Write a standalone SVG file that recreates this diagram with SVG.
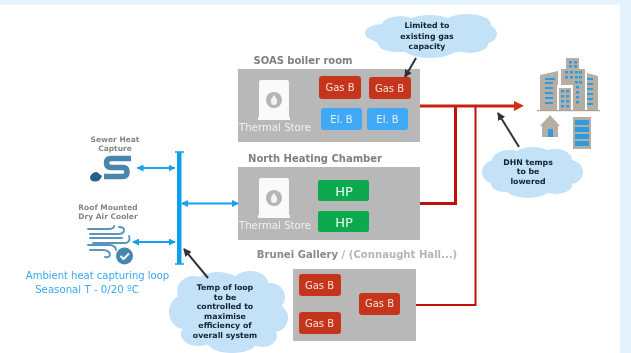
<svg xmlns="http://www.w3.org/2000/svg" width="631" height="353" viewBox="0 0 631 353">
<style>
text{font-family:"DejaVu Sans","Liberation Sans",sans-serif;text-anchor:middle}
.box{fill:#b8b8b8}
.gas{fill:#c5351a}
.el{fill:#3fa9f5}
.hp{fill:#10a94f}
.bt{fill:#f3e2dc;font-size:10px}
.bw{fill:#dff1ff;font-size:10px}
.hpt{fill:#e8fff0;font-size:13px}
.title{fill:#7f7f7f;font-size:10px;font-weight:bold}
.small{fill:#858585;font-size:7.5px;font-weight:bold}
.ts{fill:#f0f0f0;font-size:10.2px}
.cloud ellipse{fill:#c4e2f7}
.ct{fill:#10202e;font-size:7.8px;font-weight:bold}
.red{fill:none;stroke:#c00f0f}
.blue{stroke:#12a0ee;stroke-width:2;fill:none;marker-start:url(#bs);marker-end:url(#be)}
.dark{stroke:#333;stroke-width:2;fill:none;marker-end:url(#dk)}
.bldg{fill:#b5afa3}
.win{fill:#2f9be0}
</style>
<defs>
<filter id="soft" x="0" y="0" width="100%" height="100%"><feGaussianBlur stdDeviation="0.35"/></filter>
<marker id="be" markerWidth="7" markerHeight="7" refX="6" refY="3.500" orient="auto" markerUnits="userSpaceOnUse"><path d="M0 0L7 3.500L0 7z" fill="#12a0ee"/></marker>
<marker id="bs" markerWidth="7" markerHeight="7" refX="1" refY="3.500" orient="auto" markerUnits="userSpaceOnUse"><path d="M7 0L0 3.500L7 7z" fill="#12a0ee"/></marker>
<marker id="dk" markerWidth="8" markerHeight="8" refX="7" refY="4" orient="auto" markerUnits="userSpaceOnUse"><path d="M0 0L8 4L0 8z" fill="#333"/></marker>
<g id="tank"><path d="M2 0H28Q30 0 30 3V37H31V40H-1V37H0V3Q0 0 2 0z" fill="#fafafa"/><circle cx="15" cy="20" r="8" fill="#b5b5b5"/><path d="M15 15Q19 20 18 22A3 3 0 0 1 12 22Q11 20 15 15z" fill="#f4f4f4"/></g>
</defs>
<rect width="631" height="353" fill="#fff"/>
<path d="M0 0H631V353H620V4.500H0z" fill="#e3f2fb"/>
<g filter="url(#soft)">

<g id="soas">
<text class="title" x="303" y="64">SOAS boiler room</text>
<rect class="box" x="238" y="69" width="182" height="73"/>
<use href="#tank" x="259" y="80"/>
<text class="ts" x="275" y="131">Thermal Store</text>
</g>
<g id="soas-gas1"><rect class="gas" x="319" y="76" width="42" height="23" rx="3"/><text class="bt" x="340" y="91">Gas B</text></g>
<g id="soas-gas2"><rect class="gas" x="369" y="77" width="42" height="22" rx="3"/><text class="bt" x="389.500" y="92">Gas B</text></g>
<g id="soas-el1"><rect class="el" x="321" y="108" width="41" height="22" rx="3"/><text class="bw" x="341.500" y="123">El. B</text></g>
<g id="soas-el2"><rect class="el" x="367" y="108" width="41" height="22" rx="3"/><text class="bw" x="387.500" y="123">El. B</text></g>

<g id="north">
<text class="title" x="315" y="162">North Heating Chamber</text>
<rect class="box" x="238" y="167" width="182" height="73"/>
<use href="#tank" x="259" y="178"/>
<text class="ts" x="275" y="229">Thermal Store</text>
</g>
<g id="north-hp1"><rect class="hp" x="318" y="180" width="51" height="21" rx="2"/><text class="hpt" x="344" y="196">HP</text></g>
<g id="north-hp2"><rect class="hp" x="318" y="211" width="51" height="21" rx="2"/><text class="hpt" x="344" y="227">HP</text></g>

<g id="brunei">
<text x="357" y="258" font-size="10.100" font-weight="bold" fill="#b5b5b5"><tspan fill="#8a8a8a">Brunei Gallery</tspan> / (Connaught Hall...)</text>
<rect class="box" x="293" y="269" width="123" height="72"/>
</g>
<g id="brunei-gas1"><rect class="gas" x="299" y="274" width="42" height="22" rx="3"/><text class="bt" x="319.500" y="289">Gas B</text></g>
<g id="brunei-gas2"><rect class="gas" x="299" y="312" width="42" height="22" rx="3"/><text class="bt" x="319.500" y="327">Gas B</text></g>
<g id="brunei-gas3"><rect class="gas" x="359" y="293" width="41" height="22" rx="3"/><text class="bt" x="379.500" y="307">Gas B</text></g>

<g id="sewer">
<text class="small" x="115" y="142">Sewer Heat</text>
<text class="small" x="115" y="151">Capture</text>
<path d="M131 158.500H111Q106.500 158.500 106.500 163Q106.500 167.500 111 167.500H123Q127 167.500 127 172Q127 176.500 123 176.500H104" fill="none" stroke="#4a86ad" stroke-width="5.500"/>
<path d="M90 177Q92 172 97 172L102 176Q100 182 94 181.500Q90 181 90 177z" fill="#2f5f80"/>
</g>

<g id="cooler">
<text class="small" x="108" y="210">Roof Mounted</text>
<text class="small" x="108" y="219">Dry Air Cooler</text>
<g fill="none" stroke="#5a95bd" stroke-width="1.900" stroke-linecap="round">
<path d="M88 229H108Q114 229 114 226"/>
<path d="M90 234H118Q124 234 124 230Q124 227 119 227"/>
<path d="M90 238H122"/>
<path d="M93 243H126Q131 241 129 236"/>
<path d="M88 245H110Q116 246 116 250"/>
<path d="M90 250H104Q110 251 110 255Q109 258 105 257"/>
</g>
<circle cx="124.500" cy="256" r="8.500" fill="#4a86ad"/>
<path d="M120.500 256L123.500 259L129 253.500" fill="none" stroke="#f2f7fa" stroke-width="2"/>
</g>

<g id="ambient">
<text x="97.500" y="279" font-size="10" fill="#3aa9ee">Ambient heat capturing loop</text>
<text x="87" y="293" font-size="10.200" fill="#3aa9ee">Seasonal T - 0/20 ºC</text>
</g>

<g id="cloud-gas" class="cloud">
<ellipse cx="431" cy="36" rx="58" ry="18"/><ellipse cx="382" cy="33" rx="17" ry="9"/><ellipse cx="400" cy="25" rx="18" ry="9"/><ellipse cx="430" cy="24" rx="24" ry="9"/><ellipse cx="467" cy="24" rx="24" ry="10"/><ellipse cx="483" cy="34" rx="14" ry="10"/><ellipse cx="470" cy="44" rx="18" ry="9"/><ellipse cx="430" cy="49" rx="26" ry="9"/><ellipse cx="398" cy="44" rx="20" ry="8"/>
<text class="ct" x="427" y="28">Limited to</text>
<text class="ct" x="427" y="39">existing gas</text>
<text class="ct" x="427" y="49">capacity</text>
</g>

<g id="cloud-dhn" class="cloud">
<ellipse cx="532" cy="172" rx="42" ry="21"/><ellipse cx="496" cy="172" rx="14" ry="12"/><ellipse cx="510" cy="160" rx="18" ry="10"/><ellipse cx="533" cy="157" rx="20" ry="10"/><ellipse cx="555" cy="160" rx="17" ry="11"/><ellipse cx="570" cy="172" rx="13" ry="12"/><ellipse cx="556" cy="185" rx="16" ry="9"/><ellipse cx="528" cy="189" rx="22" ry="9"/><ellipse cx="505" cy="184" rx="14" ry="8"/>
<text class="ct" x="528" y="165">DHN temps</text>
<text class="ct" x="528" y="174">to be</text>
<text class="ct" x="528" y="184">lowered</text>
</g>

<g id="cloud-temp" class="cloud">
<ellipse cx="228" cy="312" rx="50" ry="36"/><ellipse cx="184" cy="312" rx="15" ry="17"/><ellipse cx="194" cy="291" rx="17" ry="15"/><ellipse cx="218" cy="284" rx="22" ry="12"/><ellipse cx="250" cy="283" rx="18" ry="12"/><ellipse cx="270" cy="297" rx="15" ry="14"/><ellipse cx="274" cy="318" rx="14" ry="14"/><ellipse cx="262" cy="336" rx="15" ry="11"/><ellipse cx="232" cy="343" rx="24" ry="10"/><ellipse cx="198" cy="334" rx="17" ry="12"/>
<text class="ct" x="225" y="290">Temp of loop</text>
<text class="ct" x="225" y="300">to be</text>
<text class="ct" x="225" y="309">controlled to</text>
<text class="ct" x="225" y="319">maximise</text>
<text class="ct" x="225" y="328">efficiency of</text>
<text class="ct" x="225" y="338">overall system</text>
</g>

<g id="buildings">
<path class="bldg" d="M540 110V75L558 71V110z"/>
<path class="bldg" d="M587 73L598 76V110H587z"/>
<rect class="bldg" x="566" y="58" width="13" height="12"/>
<rect class="bldg" x="561" y="69" width="24" height="41"/>
<rect x="557" y="85" width="16" height="25" fill="#fff"/>
<rect class="bldg" x="559" y="88" width="12" height="22"/>
<rect x="537" y="110" width="63" height="1.200" fill="#a8a294"/>
<g class="win">
<rect x="545" y="78" width="10" height="2"/><rect x="545" y="82" width="8" height="2"/><rect x="545" y="87" width="8" height="2"/><rect x="545" y="92" width="8" height="2"/><rect x="545" y="97" width="8" height="2"/><rect x="545" y="102" width="8" height="2"/>
<rect x="587" y="78" width="6" height="2"/><rect x="587" y="83" width="6" height="2"/><rect x="587" y="88" width="6" height="2"/><rect x="587" y="93" width="6" height="2"/><rect x="587" y="98" width="6" height="2"/><rect x="587" y="103" width="6" height="2"/>
<rect x="569" y="61" width="3" height="2.500"/><rect x="574" y="61" width="3" height="2.500"/><rect x="569" y="65" width="3" height="2.500"/><rect x="574" y="65" width="3" height="2.500"/>
<rect x="565" y="71" width="3" height="2.500"/><rect x="570" y="71" width="3" height="2.500"/><rect x="575" y="71" width="3" height="2.500"/><rect x="579" y="71" width="3" height="2.500"/>
<rect x="565" y="76" width="3" height="2.500"/><rect x="570" y="76" width="3" height="2.500"/><rect x="575" y="76" width="3" height="2.500"/><rect x="579" y="76" width="3" height="2.500"/>
<rect x="575" y="81" width="3" height="2.500"/><rect x="579" y="81" width="3" height="2.500"/>
<rect x="576" y="86" width="3" height="2.500"/><rect x="576" y="91" width="3" height="2.500"/><rect x="576" y="96" width="3" height="2.500"/><rect x="576" y="101" width="3" height="2.500"/>
<rect x="561" y="90" width="3" height="2.500"/><rect x="566" y="90" width="3" height="2.500"/><rect x="561" y="95" width="3" height="2.500"/><rect x="566" y="95" width="3" height="2.500"/><rect x="561" y="100" width="3" height="2.500"/><rect x="566" y="100" width="3" height="2.500"/><rect x="561" y="105" width="3" height="2.500"/><rect x="566" y="105" width="3" height="2.500"/>
</g>
<path class="bldg" d="M540 126L550 115L560 126H558V137H542V126z"/>
<rect class="win" x="548" y="129" width="5" height="8"/>
<rect class="bldg" x="573" y="117" width="18" height="32"/>
<g class="win">
<rect x="575" y="120" width="14" height="5"/><rect x="575" y="127" width="14" height="5"/><rect x="575" y="134" width="14" height="5"/><rect x="575" y="141" width="14" height="5"/>
</g>
</g>

<g id="connectors">
<path class="red" stroke-width="3" d="M420 203.500H455.500V106"/>
<path class="red" stroke-width="2" d="M416 305H475.500V106"/>
<path fill="none" stroke="#c8200f" stroke-width="3" d="M420 106H515"/>
<path fill="#d0330f" d="M514 101L524 105.800L514 111z"/>
<path class="blue" d="M137.500 168H174.500"/>
<path class="blue" d="M182 203.500H238"/>
<path class="blue" d="M133 242H175"/>
<path d="M175 152H184M175 264H184" stroke="#0ea0f0" fill="none" stroke-width="1.500"/>
<rect x="177" y="152" width="4.500" height="112" fill="#0ea0f0"/>
<path class="dark" d="M208 278L184 249"/>
<path class="dark" d="M416 58L405 77"/>
<path class="dark" d="M519 147L498 113"/>
</g>
</g>
</svg>
